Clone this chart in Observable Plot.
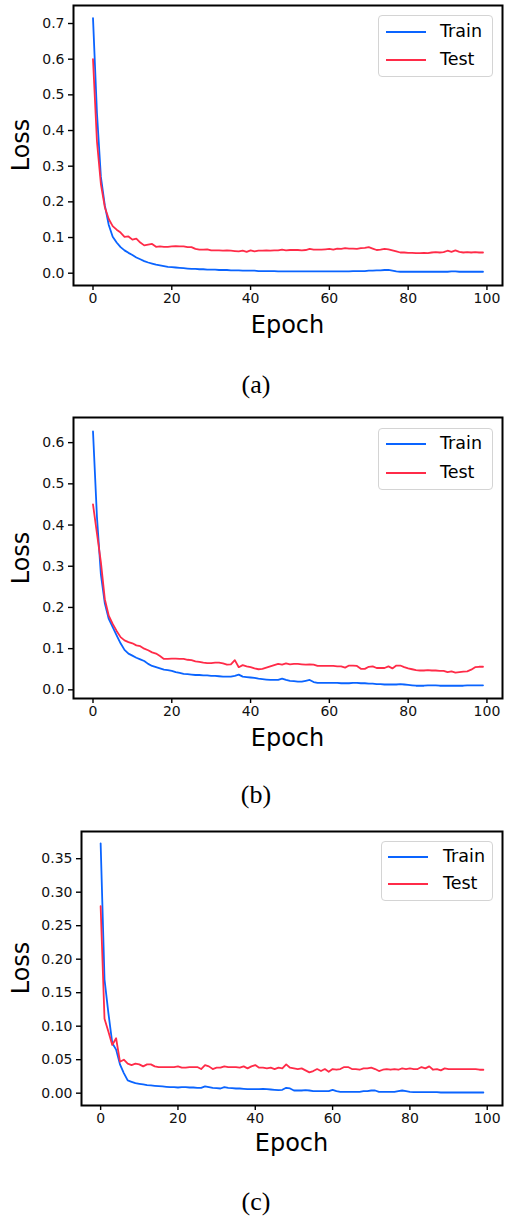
<!DOCTYPE html>
<html>
<head>
<meta charset="utf-8">
<script src="https://cdn.jsdelivr.net/npm/d3@7"></script>
<script src="https://cdn.jsdelivr.net/npm/@observablehq/plot@0.6"></script>
<style>
  html, body { margin: 0; padding: 0; background: #fff; }
  #root { position: relative; width: 505px; height: 1216px; overflow: hidden; font-family: "DejaVu Sans", sans-serif; }
  .panel { position: absolute; left: 0; }
  .panel svg text { font-size: 14px !important; font-family: "DejaVu Sans", sans-serif; fill: #111; }
  .xlabel { position: absolute; font-size: 24px; transform: translate(-50%, -50%); white-space: nowrap; }
  .ylabel { position: absolute; font-size: 24px; transform: translate(-50%, -50%) rotate(-90deg); white-space: nowrap; }
  .caption { position: absolute; font-family: "Liberation Serif", serif; font-size: 26px; transform: translate(-50%, -50%); }
  .legend { position: absolute; border: 1px solid #d4d4d4; border-radius: 4px; background: rgba(255,255,255,0.8); box-sizing: border-box; }
  .legend .row { position: absolute; left: 0; width: 100%; height: 0; }
  .legend .sw { position: absolute; width: 40px; height: 0; border-top: 2px solid; transform: translateY(-1px); }
  .legend .tx { position: absolute; font-size: 17.5px; transform: translateY(-50%); line-height: 1; white-space: nowrap; }
</style>
</head>
<body>
<div id="root"></div>
<script>
const epochs = d3.range(100);
const seriesNames = ["Train", "Test"];
const colors = ["#0a64ff", "#ff2b48"];

const trainA = [0.715,0.45,0.27,0.19,0.135,0.102,0.086,0.073,0.064,0.057,
0.051,0.044,0.039,0.034,0.030,0.027,0.024,0.022,0.020,0.018,
0.017,0.016,0.015,0.014,0.013,0.012,0.012,0.011,0.011,0.010,
0.010,0.010,0.009,0.009,0.009,0.008,0.008,0.008,0.007,0.007,
0.007,0.007,0.006,0.006,0.006,0.006,0.006,0.005,0.005,0.005,
0.005,0.005,0.005,0.005,0.005,0.005,0.005,0.005,0.005,0.005,
0.005,0.005,0.005,0.005,0.005,0.005,0.006,0.006,0.006,0.006,
0.007,0.007,0.008,0.008,0.009,0.009,0.007,0.005,0.004,0.004,
0.004,0.004,0.004,0.004,0.004,0.004,0.004,0.004,0.004,0.004,
0.004,0.005,0.005,0.004,0.004,0.004,0.004,0.004,0.004,0.004];
const testA = [0.60,0.37,0.25,0.185,0.152,0.132,0.122,0.114,0.102,0.103,
0.094,0.097,0.086,0.078,0.080,0.082,0.074,0.075,0.074,0.074,
0.075,0.076,0.075,0.075,0.073,0.073,0.068,0.066,0.066,0.067,
0.064,0.064,0.064,0.063,0.064,0.063,0.062,0.061,0.063,0.060,
0.064,0.061,0.063,0.063,0.064,0.063,0.064,0.064,0.066,0.064,
0.065,0.065,0.065,0.064,0.065,0.068,0.066,0.066,0.066,0.067,
0.068,0.066,0.069,0.068,0.070,0.069,0.069,0.068,0.070,0.071,
0.073,0.069,0.065,0.066,0.068,0.067,0.064,0.061,0.058,0.058,
0.057,0.057,0.056,0.056,0.057,0.056,0.058,0.059,0.058,0.059,
0.063,0.060,0.064,0.060,0.058,0.059,0.058,0.059,0.058,0.058];

const trainB = [0.627,0.42,0.28,0.21,0.172,0.152,0.132,0.113,0.097,0.088,
0.083,0.078,0.074,0.070,0.063,0.058,0.055,0.052,0.049,0.048,
0.046,0.043,0.041,0.039,0.038,0.037,0.036,0.036,0.035,0.035,
0.034,0.034,0.033,0.032,0.032,0.032,0.034,0.037,0.032,0.031,
0.030,0.029,0.027,0.026,0.025,0.024,0.024,0.024,0.027,0.024,
0.022,0.021,0.020,0.020,0.022,0.024,0.019,0.017,0.017,0.017,
0.017,0.017,0.017,0.016,0.016,0.016,0.017,0.017,0.016,0.016,
0.015,0.015,0.014,0.014,0.013,0.013,0.013,0.013,0.014,0.013,
0.012,0.011,0.010,0.010,0.010,0.011,0.011,0.011,0.010,0.010,
0.010,0.010,0.010,0.010,0.010,0.011,0.011,0.011,0.011,0.011];
const testB = [0.45,0.38,0.31,0.22,0.18,0.16,0.143,0.128,0.12,0.116,
0.113,0.108,0.106,0.100,0.096,0.091,0.088,0.082,0.075,0.075,
0.076,0.076,0.075,0.075,0.073,0.072,0.069,0.068,0.066,0.065,
0.065,0.066,0.066,0.064,0.061,0.062,0.072,0.055,0.060,0.057,
0.055,0.052,0.050,0.051,0.054,0.057,0.060,0.063,0.061,0.064,
0.062,0.063,0.063,0.062,0.061,0.062,0.061,0.058,0.058,0.058,
0.058,0.058,0.057,0.057,0.054,0.059,0.059,0.058,0.051,0.051,
0.056,0.057,0.053,0.053,0.053,0.057,0.052,0.059,0.059,0.055,
0.052,0.050,0.048,0.047,0.047,0.048,0.047,0.047,0.046,0.046,
0.043,0.045,0.042,0.043,0.044,0.045,0.049,0.055,0.056,0.056];

const trainC = [0.373,0.17,0.12,0.075,0.065,0.043,0.030,0.019,0.017,0.015,
0.014,0.013,0.012,0.0115,0.011,0.0105,0.010,0.0095,0.009,0.009,
0.0085,0.009,0.009,0.0085,0.0085,0.008,0.008,0.010,0.009,0.008,
0.0075,0.007,0.009,0.008,0.0075,0.007,0.007,0.0065,0.006,0.006,
0.006,0.006,0.0065,0.006,0.0055,0.005,0.0045,0.005,0.008,0.007,
0.004,0.004,0.004,0.0045,0.004,0.003,0.003,0.003,0.003,0.003,
0.005,0.003,0.002,0.002,0.002,0.002,0.002,0.002,0.003,0.003,
0.004,0.004,0.002,0.002,0.002,0.002,0.002,0.003,0.004,0.003,
0.002,0.0015,0.0015,0.0015,0.0015,0.0015,0.0015,0.0015,0.001,0.001,
0.001,0.001,0.001,0.001,0.001,0.001,0.001,0.001,0.001,0.001];
const testC = [0.279,0.111,0.092,0.072,0.082,0.047,0.050,0.044,0.042,0.044,
0.043,0.040,0.043,0.043,0.040,0.039,0.039,0.039,0.039,0.039,
0.040,0.038,0.038,0.039,0.039,0.039,0.036,0.042,0.040,0.036,
0.038,0.038,0.040,0.039,0.039,0.039,0.038,0.040,0.037,0.040,
0.042,0.038,0.038,0.037,0.038,0.036,0.038,0.037,0.043,0.038,
0.037,0.036,0.037,0.034,0.031,0.033,0.036,0.033,0.036,0.032,
0.036,0.035,0.036,0.039,0.039,0.036,0.036,0.035,0.037,0.037,
0.038,0.036,0.033,0.035,0.036,0.035,0.036,0.035,0.037,0.036,
0.037,0.036,0.036,0.039,0.037,0.040,0.035,0.036,0.034,0.037,
0.036,0.036,0.036,0.036,0.036,0.036,0.036,0.036,0.035,0.035];

const xTicks = [0, 20, 40, 60, 80, 100];
const yTicksAB_a = [0, 0.1, 0.2, 0.3, 0.4, 0.5, 0.6, 0.7];
const yTicksAB_b = [0, 0.1, 0.2, 0.3, 0.4, 0.5, 0.6];
const yTicksC = [0, 0.05, 0.10, 0.15, 0.20, 0.25, 0.30, 0.35];
const captions = ["(a)", "(b)", "(c)"];

const panels = [
  {train: trainA, test: testA, top: 0, mt: 5, mb: 60, ml: 73, ydom: [-0.0345, 0.7505], yticks: yTicksAB_a, fmt: ".1f",
   epochY: 325, capY: 385, legend: {x: 378, y: 15, w: 115, h: 62, r1: 16, r2: 44, sx: 7, tx: 61}},
  {train: trainB, test: testB, top: 410, mt: 7, mb: 57, ml: 73, ydom: [-0.021, 0.661], yticks: yTicksAB_b, fmt: ".1f",
   epochY: 738, capY: 795, legend: {x: 378, y: 428, w: 115, h: 62, r1: 15, r2: 44, sx: 7, tx: 61}},
  {train: trainC, test: testC, top: 820, mt: 11, mb: 60, ml: 81, ydom: [-0.0184, 0.3906], yticks: yTicksC, fmt: ".2f",
   epochY: 1143, capY: 1202, legend: {x: 381, y: 841, w: 112, h: 60, r1: 15, r2: 42, sx: 6, tx: 61}}
];

const root = document.getElementById("root");
panels.forEach((p, i) => {
  const rows = [];
  epochs.forEach((e, k) => {
    rows.push({epoch: e, loss: p.train[k], series: seriesNames[0]});
  });
  epochs.forEach((e, k) => {
    rows.push({epoch: e, loss: p.test[k], series: seriesNames[1]});
  });
  const H = 345;
  const chart = Plot.plot({
    width: 505, height: H,
    marginTop: p.mt, marginBottom: p.mb, marginLeft: p.ml, marginRight: 3,
    style: {fontFamily: "DejaVu Sans", fontSize: "14px", color: "black", background: "white", overflow: "visible"},
    x: {domain: [-4.95, 103.95], label: null},
    y: {domain: p.ydom, label: null},
    color: {domain: seriesNames, range: colors},
    marks: [
      Plot.line(rows, {x: "epoch", y: "loss", z: "series", stroke: "series", strokeWidth: 1.8, strokeLinejoin: "round"}),
      Plot.axisX({ticks: xTicks, tickSize: 5, tickPadding: 3, tickFormat: d3.format("d"), label: null, strokeWidth: 1.4, fontSize: 14}),
      Plot.axisY({ticks: p.yticks, tickSize: 5, tickPadding: 4, tickFormat: d3.format(p.fmt), label: null, strokeWidth: 1.4, fontSize: 14}),
      Plot.frame({stroke: "black", strokeWidth: 2})
    ]
  });
  const wrap = document.createElement("div");
  wrap.className = "panel";
  wrap.style.top = p.top + "px";
  wrap.appendChild(chart);
  root.appendChild(wrap);

  const frameTop = p.top + p.mt, frameBot = p.top + H - p.mb;
  const cx = (p.ml + 502) / 2;

  const xl = document.createElement("div");
  xl.className = "xlabel"; xl.textContent = "Epoch";
  xl.style.left = cx + "px"; xl.style.top = p.epochY + "px";
  root.appendChild(xl);

  const yl = document.createElement("div");
  yl.className = "ylabel"; yl.textContent = "Loss";
  yl.style.left = "21px"; yl.style.top = ((frameTop + frameBot) / 2) + "px";
  root.appendChild(yl);

  const cap = document.createElement("div");
  cap.className = "caption"; cap.textContent = captions[i];
  cap.style.left = "256px"; cap.style.top = p.capY + "px";
  root.appendChild(cap);

  const L = p.legend;
  const lg = document.createElement("div");
  lg.className = "legend";
  lg.style.left = L.x + "px"; lg.style.top = L.y + "px";
  lg.style.width = L.w + "px"; lg.style.height = L.h + "px";
  [L.r1, L.r2].forEach((ry, j) => {
    const row = document.createElement("div");
    row.className = "row"; row.style.top = ry + "px";
    const sw = document.createElement("div");
    sw.className = "sw"; sw.style.left = L.sx + "px"; sw.style.borderTopColor = colors[j];
    const tx = document.createElement("div");
    tx.className = "tx"; tx.style.left = L.tx + "px"; tx.textContent = seriesNames[j];
    row.appendChild(sw); row.appendChild(tx);
    lg.appendChild(row);
  });
  root.appendChild(lg);
});
</script>
</body>
</html>
